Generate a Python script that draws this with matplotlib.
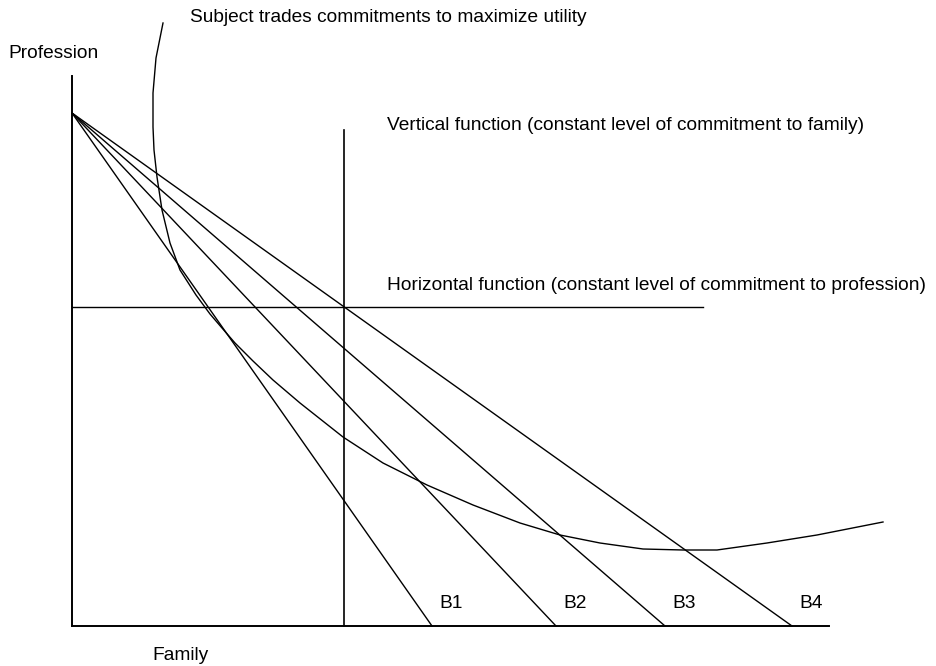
import matplotlib
matplotlib.use("Agg")
import matplotlib.pyplot as plt

# Conceptual units: family commitment on x, profession commitment on y
PROFESSION_MAX = 513          # common start of every budget line on the y axis
budget_labels = ["B1", "B2", "B3", "B4"]
budget_family_max = [360, 484, 593, 720]   # x intercepts of the budget lines

vertical_level = 272           # constant commitment to family
vertical_top = 496
horizontal_level = 319         # constant commitment to profession
horizontal_end = 631

axis_x_end = 757
axis_y_end = 550

# utility curve
curve_x = [91, 84, 81, 81, 82, 85, 90, 98, 108, 124, 138, 150, 163, 181, 201,
           228, 271, 311, 355, 401, 448, 488, 528, 571, 611, 645, 695, 745, 811]
curve_y = [603, 568, 533, 499, 476, 449, 416, 383, 356, 331, 312, 298, 283, 265, 246,
           223, 189, 163, 141, 121, 103, 91, 83, 77, 76, 76, 83, 91, 104]

plt.rcParams["font.family"] = ["Liberation Sans", "DejaVu Sans"]

fig = plt.figure(figsize=(9.37, 6.66), dpi=100)
ax = fig.add_axes([0, 0, 1, 1])
ax.set_xlim(-72, 865)
ax.set_ylim(-40, 626)
ax.axis("off")

lw = 1.0
# axes
ax.plot([0, 0], [0, axis_y_end], color="black", lw=1.4)
ax.plot([0, axis_x_end], [0, 0], color="black", lw=1.4)

fs = 13.8
# budget lines
for lab, xmax in zip(budget_labels, budget_family_max):
    ax.plot([0, xmax], [PROFESSION_MAX, 0], color="black", lw=lw)
    ax.text(xmax + 19, 22, lab, ha="center", va="center", fontsize=fs)

# constant-level functions
ax.plot([vertical_level, vertical_level], [0, vertical_top], color="black", lw=1.2)
ax.plot([0, horizontal_end], [horizontal_level, horizontal_level], color="black", lw=lw)

# utility curve
ax.plot(curve_x, curve_y, color="black", lw=lw, solid_joinstyle="round")

ax.text(-64, 573, "Profession", ha="left", va="center", fontsize=fs)
ax.text(80, -29, "Family", ha="left", va="center", fontsize=fs)
ax.text(118, 608, "Subject trades commitments to maximize utility",
        ha="left", va="center", fontsize=fs)
ax.text(315, 500, "Vertical function (constant level of commitment to family)",
        ha="left", va="center", fontsize=fs)
ax.text(315, 340, "Horizontal function (constant level of commitment to profession)",
        ha="left", va="center", fontsize=fs)

fig.savefig("out.png", dpi=100)
